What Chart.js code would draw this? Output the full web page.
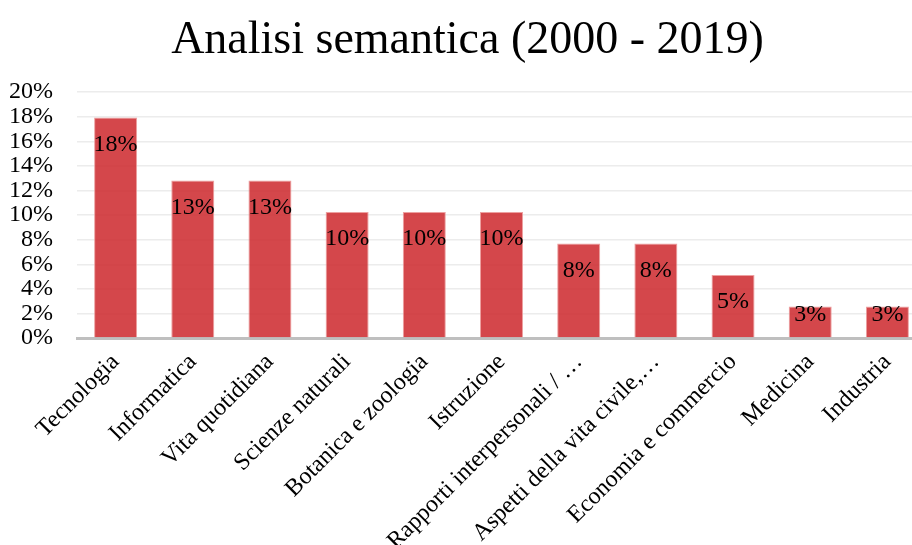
<!DOCTYPE html>
<html>
<head>
<meta charset="utf-8">
<script src="https://cdn.jsdelivr.net/npm/chart.js@4.4.1/dist/chart.umd.min.js"></script>
<style>
    html, body { margin: 0; padding: 0; overflow: hidden; background: #fff; }
    #wrap { width: 948px; height: 545px; }
</style>
</head>
<body>
<div id="wrap"><canvas id="chart" width="948" height="545"></canvas></div>
<script>
const categories = [
    "Tecnologia", "Informatica", "Vita quotidiana", "Scienze naturali",
    "Botanica e zoologia", "Istruzione", "Rapporti interpersonali / \u2026",
    "Aspetti della vita civile,\u2026", "Economia e commercio", "Medicina", "Industria"
];
const shares = [17.95, 12.82, 12.82, 10.26, 10.26, 10.26, 7.69, 7.69, 5.13, 2.56, 2.56];
const valueLabels = ["18%", "13%", "13%", "10%", "10%", "10%", "8%", "8%", "5%", "3%", "3%"];
const yTicks = [0, 2, 4, 6, 8, 10, 12, 14, 16, 18, 20];

const serif = "'Liberation Serif', 'Times New Roman', serif";

// labels inside the top of each bar
const barLabels = {
    id: 'barLabels',
    afterDatasetsDraw(chart) {
        const ctx = chart.ctx;
        const meta = chart.getDatasetMeta(0);
        ctx.save();
        ctx.font = "24px " + serif;
        ctx.fillStyle = "#000";
        ctx.textAlign = "center";
        ctx.textBaseline = "middle";
        meta.data.forEach(function (bar, i) {
            let h = bar.base - bar.y;
            let y = h < 50 ? bar.y + 8 : bar.y + 27;
            ctx.fillText(valueLabels[i], bar.x, y);
        });
        ctx.restore();
    }
};

let ctx = document.getElementById("chart").getContext("2d");
let chart = new Chart(ctx, {
    type: "bar",
    data: {
        labels: categories,
        datasets: [{
            data: shares,
            backgroundColor: "rgba(206, 46, 50, 0.88)",
            borderColor: "rgba(235, 150, 150, 0.9)",
            borderWidth: 1,
            barPercentage: 0.557,
            categoryPercentage: 1
        }]
    },
    options: {
        responsive: false,
        animation: false,
        layout: { padding: { left: 9, right: 22, top: 0, bottom: 0 } },
        plugins: {
            legend: { display: false },
            tooltip: { enabled: false },
            title: {
                display: true,
                text: "Analisi semantica (2000 - 2019)",
                color: "#000",
                font: { family: serif, size: 46, weight: "normal", lineHeight: 1.2 },
                padding: { top: 13, bottom: 24 }
            }
        },
        scales: {
            x: {
                grid: { display: false, drawTicks: false },
                border: { color: "#bfbfbf", width: 3 },
                ticks: {
                    color: "#000",
                    font: { family: serif, size: 24 },
                    minRotation: 45,
                    maxRotation: 45,
                    autoSkip: false,
                    padding: 10
                },
                afterFit: function (axis) {
                    axis.height = 207;
                    axis.paddingLeft = 0;
                    axis.paddingRight = 0;
                }
            },
            y: {
                min: 0,
                max: 20,
                afterBuildTicks: function (axis) {
                    axis.ticks = yTicks.map(function (v) { return { value: v }; });
                },
                afterFit: function (axis) {
                    axis.width = 68;
                },
                grid: { color: "#ececec", lineWidth: 1.5, drawTicks: false },
                border: { display: false },
                ticks: {
                    color: "#000",
                    font: { family: serif, size: 24 },
                    padding: 24,
                    autoSkip: false,
                    callback: function (v) { return v + "%"; }
                }
            }
        }
    },
    plugins: [barLabels]
});
</script>
</body>
</html>
